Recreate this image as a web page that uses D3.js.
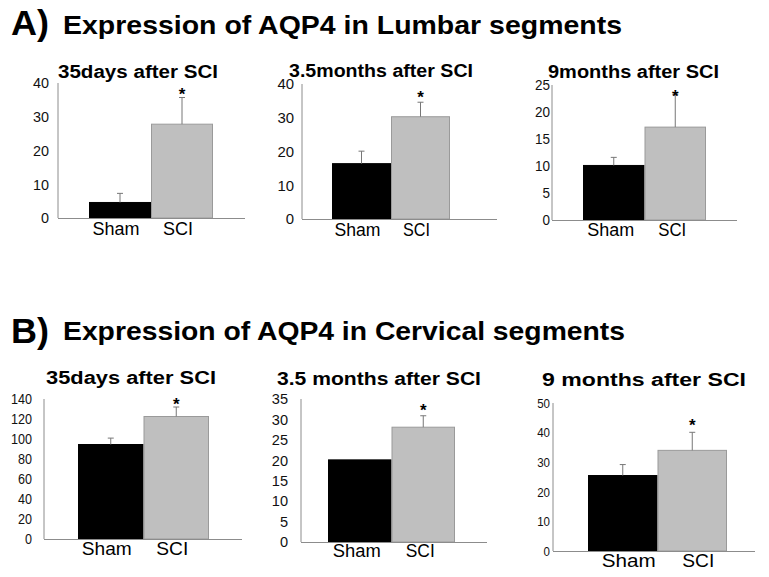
<!DOCTYPE html>
<html>
<head>
<meta charset="utf-8">
<script src="https://cdn.jsdelivr.net/npm/d3@7"></script>
<style>
  html, body { margin: 0; padding: 0; background: #fff; }
  svg { display: block; font-family: "Liberation Sans", Arial, Helvetica, sans-serif; }
</style>
</head>
<body>
<svg id="chart" width="769" height="577"></svg>
<script>
// ---------------- DATA ----------------
const categories = ["Sham", "SCI"];
const sectionLetters = ["A)", "B)"];
const sectionHeadings = ["Expression of AQP4 in Lumbar segments", "Expression of AQP4 in Cervical segments"];

const lumbarTitles = ["35days after SCI", "3.5months after SCI", "9months after SCI"];
const lumbarMeans = [[4.6, 27.8], [16.4, 30.3], [10.1, 17.2]];
const lumbarErrors = [[2.7, 7.9], [3.7, 4.3], [1.5, 6.1]];
const lumbarYMax = [40, 40, 25];
const lumbarTicks = [[0, 10, 20, 30, 40], [0, 10, 20, 30, 40], [0, 5, 10, 15, 20, 25]];

const cervicalTitles = ["35days after SCI", "3.5 months after SCI", "9 months after SCI"];
const cervicalMeans = [[94.5, 122.5], [20.1, 28.1], [25.5, 34.0]];
const cervicalErrors = [[6.4, 9.5], [0, 2.8], [3.7, 6.1]];
const cervicalYMax = [140, 35, 50];
const cervicalTicks = [[0, 20, 40, 60, 80, 100, 120, 140], [0, 5, 10, 15, 20, 25, 30, 35], [0, 10, 20, 30, 40, 50]];

const significance = ["", "*"];

// ---------------- LAYOUT (presentation only) ----------------
const FONT = "'Liberation Sans', Arial, Helvetica, sans-serif";
const headingLayout = [
  { letterX: 11, letterY: 35, letterW: 38, textX: 63, textY: 33.5, textW: 559 },
  { letterX: 11, letterY: 343, letterW: 38, textX: 63, textY: 339.5, textW: 562 }
];
const panelLayouts = [
  [
    { ax: 58, yTop: 83, y0: 218, xEnd: 245, b0: 89, b1: 213, tX0: 58, tW: 160, tY: 78, lblY: 235, lblDx: -4, lblW: [47, 30], tick: 15, tickW: 8, tickPad: 9, starGap: 7 },
    { ax: 302, yTop: 84, y0: 219, xEnd: 497, b0: 332, b1: 450, tX0: 289, tW: 184, tY: 76.5, lblY: 235.5, lblDx: -4, lblW: [46, 27], tick: 15, tickW: 8.3, tickPad: 8, starGap: 8 },
    { ax: 552, yTop: 85, y0: 220, xEnd: 737, b0: 583, b1: 706, tX0: 548, tW: 171, tY: 77.5, lblY: 235.5, lblDx: -3, lblW: [47, 28], tick: 14.5, tickW: 7.5, tickPad: 2, starGap: 1 },
  ],
  [
    { ax: 44, yTop: 399, y0: 539, xEnd: 242, b0: 78, b1: 209, tX0: 46, tW: 170, tY: 384, lblY: 555, lblDx: -4, lblW: [50, 32], tick: 14, tickW: 7, tickPad: 12, starGap: 6 },
    { ax: 301, yTop: 399, y0: 542, xEnd: 487, b0: 328, b1: 455, tX0: 277, tW: 204, tY: 385, lblY: 556.5, lblDx: -3, lblW: [48, 29], tick: 15, tickW: 8.1, tickPad: 13, starGap: 9 },
    { ax: 553, yTop: 403, y0: 551, xEnd: 755, b0: 588, b1: 727, tX0: 542, tW: 204, tY: 386, lblY: 567, lblDx: 6, lblW: [54, 32], tick: 13.5, tickW: 6.4, tickPad: 3, starGap: 10 }
  ]
];

const sections = [
  { titles: lumbarTitles, means: lumbarMeans, errors: lumbarErrors, ymax: lumbarYMax, ticks: lumbarTicks },
  { titles: cervicalTitles, means: cervicalMeans, errors: cervicalErrors, ymax: cervicalYMax, ticks: cervicalTicks }
];

const barColors = ["#000000", "#bfbfbf"];
const barStroke = ["#000000", "#9a9a9a"];

// ---------------- DRAW ----------------
const svg = d3.select("#chart");

sections.forEach((sec, si) => {
  const hl = headingLayout[si];
  svg.append("text")
    .attr("x", hl.letterX).attr("y", hl.letterY)
    .attr("font-size", 35).attr("font-weight", "bold").attr("font-family", FONT)
    .attr("textLength", hl.letterW).attr("lengthAdjust", "spacingAndGlyphs")
    .text(sectionLetters[si]);
  svg.append("text")
    .attr("x", hl.textX).attr("y", hl.textY)
    .attr("font-size", 26).attr("font-weight", "bold").attr("font-family", FONT)
    .attr("textLength", hl.textW).attr("lengthAdjust", "spacingAndGlyphs")
    .text(sectionHeadings[si]);

  sec.titles.forEach((title, pi) => {
    const L = panelLayouts[si][pi];
    const g = svg.append("g");
    const x = d3.scaleBand().domain(categories).range([L.b0, L.b1]).padding(0);
    const y = d3.scaleLinear().domain([0, sec.ymax[pi]]).range([L.y0, L.yTop]);

    // y axis
    const yAxis = d3.axisLeft(y).tickValues(sec.ticks[pi]).tickSize(0).tickPadding(L.tickPad).tickFormat(d3.format("d"));
    const ya = g.append("g").attr("transform", `translate(${L.ax},0)`).call(yAxis);
    ya.attr("font-family", FONT).attr("font-size", L.tick);
    ya.select(".domain").remove();
    ya.selectAll("text")
      .attr("font-size", L.tick).attr("font-family", FONT).attr("fill", "#111")
      .attr("textLength", d => String(d).length * L.tickW)
      .attr("lengthAdjust", "spacingAndGlyphs");
    g.append("line")
      .attr("x1", L.ax).attr("x2", L.ax).attr("y1", y(sec.ymax[pi])).attr("y2", L.y0)
      .attr("stroke", "#8c8c8c").attr("stroke-width", 1);

    // title
    g.append("text")
      .attr("x", L.tX0).attr("y", L.tY)
      .attr("font-size", 17.5).attr("font-weight", "bold").attr("font-family", FONT)
      .attr("textLength", L.tW).attr("lengthAdjust", "spacingAndGlyphs")
      .text(title);

    // bars
    const vals = categories.map((c, i) => ({ c, i, v: sec.means[pi][i], e: sec.errors[pi][i] }));
    g.selectAll("rect.bar").data(vals).enter().append("rect")
      .attr("class", "bar")
      .attr("x", d => x(d.c) + 0.5)
      .attr("width", x.bandwidth() - 1)
      .attr("y", d => y(d.v))
      .attr("height", d => y(0) - y(d.v))
      .attr("fill", d => barColors[d.i])
      .attr("stroke", d => barStroke[d.i])
      .attr("stroke-width", 1);

    // error bars (upward only)
    const eb = vals.filter(d => d.e > 0);
    g.selectAll("line.err").data(eb).enter().append("line")
      .attr("x1", d => x(d.c) + x.bandwidth() / 2).attr("x2", d => x(d.c) + x.bandwidth() / 2)
      .attr("y1", d => y(d.v)).attr("y2", d => y(d.v + d.e))
      .attr("stroke", "#777").attr("stroke-width", 1);
    g.selectAll("line.cap").data(eb).enter().append("line")
      .attr("x1", d => x(d.c) + x.bandwidth() / 2 - 3).attr("x2", d => x(d.c) + x.bandwidth() / 2 + 3)
      .attr("y1", d => y(d.v + d.e)).attr("y2", d => y(d.v + d.e))
      .attr("stroke", "#777").attr("stroke-width", 1);

    // significance stars
    g.selectAll("text.star").data(vals.filter(d => significance[d.i])).enter().append("text")
      .attr("x", d => x(d.c) + x.bandwidth() / 2)
      .attr("y", d => y(d.v + d.e) - L.starGap + 9)
      .attr("text-anchor", "middle")
      .attr("font-size", 17).attr("font-weight", "bold").attr("font-family", FONT)
      .text(d => significance[d.i]);

    // x axis line
    g.append("line")
      .attr("x1", L.ax).attr("x2", L.xEnd).attr("y1", L.y0 + 0.5).attr("y2", L.y0 + 0.5)
      .attr("stroke", "#8c8c8c").attr("stroke-width", 1);

    // category labels
    g.selectAll("text.cat").data(categories).enter().append("text")
      .attr("x", (d, i) => x(d) + x.bandwidth() / 2 + L.lblDx - L.lblW[i] / 2)
      .attr("y", L.lblY)
      .attr("font-size", 17.5).attr("font-family", FONT)
      .attr("textLength", (d, i) => L.lblW[i]).attr("lengthAdjust", "spacingAndGlyphs")
      .text(d => d);
  });
});
</script>
</body>
</html>
